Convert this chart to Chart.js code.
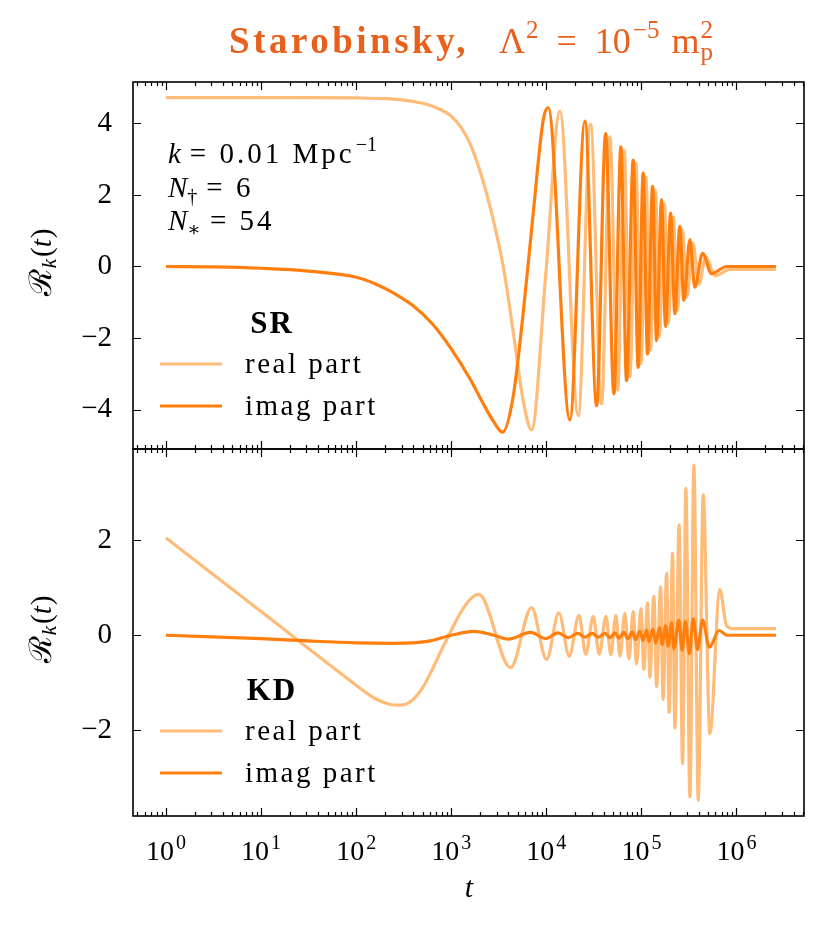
<!DOCTYPE html>
<html>
<head>
<meta charset="utf-8">
<script src="https://cdn.jsdelivr.net/npm/chart.js@4.4.1/dist/chart.umd.min.js"></script>
<style>
  html, body { margin: 0; padding: 0; background: #fff; }
  #wrap { position: relative; width: 832px; height: 933px; }
  #wrap canvas { position: absolute; left: 0; top: 0; }
</style>
</head>
<body>
<div id="wrap">
  <canvas id="srChart" width="832" height="933"></canvas>
  <canvas id="kdChart" width="832" height="933"></canvas>
</div>
<script>
// ---- data ----
// SR panel (slow roll)
const srRealT = [1, 10, 31.6, 100, 200, 316, 501, 708, 1000, 1259, 1585, 1995, 2630, 3524, 4467, 5715, 7000, 9886, 13900,
  21680, 29240, 38110, 46670, 56230, 65920, 75680, 87500, 98850, 111400, 124500, 140300, 154500, 174600,
  192300, 216800, 238800, 269800, 300600, 347500, 401800, 476400, 592900, 853100, 2.6e6];
const srRealV = [4.72, 4.72, 4.72, 4.71, 4.69, 4.65, 4.56, 4.43, 4.2, 3.9, 3.42, 2.69, 1.55, 0, -1.79, -3.75, -4.57, -0.2, 4.34,
  -4.17, 3.97, -3.84, 3.62, -3.45, 3.24, -3.08, 2.88, -2.72, 2.50, -2.34, 2.13, -1.96, 1.76,
  -1.58, 1.38, -1.22, 1.02, -0.86, 0.66, -0.50, 0.27, -0.26, -0.08, -0.08];
const srImagT = [1, 3.16, 10, 31.6, 100, 158, 251, 398, 631, 1000, 1585, 2239, 2818, 3467, 4467,
  5715, 7278, 9268, 10470, 17700, 25470, 33810, 42070, 51400, 60810, 69820, 82040, 92470, 104400, 116100,
  131200, 144500, 162900, 179500, 202800, 224900, 253500, 279900, 323600, 364800, 439500, 547000, 787000, 2.6e6];
const srImagV = [0, -0.01, -0.05, -0.13, -0.3, -0.48, -0.75, -1.1, -1.6, -2.3, -3.15, -3.9, -4.35, -4.63, -3.66,
  -1.3, 1.48, 4.08, 4.44, -4.29, 4.06, -3.89, 3.71, -3.56, 3.34, -3.19, 2.97, -2.82, 2.61, -2.44,
  2.24, -2.07, 1.87, -1.68, 1.49, -1.32, 1.12, -0.95, 0.75, -0.58, 0.37, -0.2, 0, 0];

// KD panel (kinetic dominance)
const kdRealT = [1, 3.16, 10, 20.9, 31.6, 100, 158, 224, 288, 380, 501, 631, 794, 1000, 1259, 1585, 1950,
  4217, 7000, 10070, 13550, 17420, 22030, 26060, 31120, 35970, 42360, 47750, 53950, 59430, 66990,
  73960, 82040, 88920, 98850, 106200, 116100, 122700, 135200, 144500, 159200, 169400, 184100, 195900,
  212800, 224900, 249500, 271000, 293800, 323600, 356500, 396300, 446700, 524800, 668300, 787000, 924700, 2.6e6];
const kdRealV = [2.05, 1.27, 0.50, 0, -0.28, -1.05, -1.33, -1.45, -1.47, -1.38, -1.1, -0.72, -0.3, 0.1, 0.48, 0.76, 0.86,
  -0.68, 0.58, -0.51, 0.47, -0.44, 0.42, -0.40, 0.40, -0.40, 0.40, -0.41, 0.42, -0.44, 0.46,
  -0.50, 0.50, -0.60, 0.56, -0.72, 0.68, -0.88, 0.82, -1.08, 1.02, -1.35, 1.30, -1.62,
  1.72, -1.95, 2.32, -2.70, 3.09, -3.40, 3.58, -3.47, 2.95, -2.07, 0.96, 0.2, 0.14, 0.14];
const kdImagT = [1, 10, 31.6, 100, 251, 562, 1000, 1738, 2818, 4000,
  6839, 9840, 13240, 17020, 21530, 25470, 30410, 35160, 41400, 46670, 52720, 58080, 65460, 72280,
  80170, 86900, 96600, 103700, 113500, 120000, 132100, 141300, 155600, 165600, 179900, 191400,
  208000, 219800, 247700, 267900, 289700, 319900, 350800, 389000, 439500, 518800, 657700, 794300, 2.6e6];
const kdImagV = [0, -0.07, -0.12, -0.16, -0.17, -0.13, 0, 0.08, 0, -0.08,
  0.06, -0.07, 0.05, -0.05, 0.04, -0.04, 0.04, -0.04, 0.04, -0.05, 0.05, -0.06, 0.06, -0.07,
  0.07, -0.09, 0.09, -0.11, 0.11, -0.13, 0.13, -0.16, 0.16, -0.19, 0.2, -0.23,
  0.26, -0.28, 0.32, -0.32, 0.30, -0.39, 0.35, -0.30, 0.32, -0.25, 0.10, 0, 0];

// ticks
const xTickVals = [1, 10, 100, 1e3, 1e4, 1e5, 1e6];
const xTickExps = ['0', '1', '2', '3', '4', '5', '6'];
const srYTicks = [-4, -2, 0, 2, 4];
const kdYTicks = [-2, 0, 2];

const lightOrange = '#ffbb78';
const darkOrange = '#ff7f0e';
const titleColor = '#e8601c';
const SERIF = '"Liberation Serif", "DejaVu Serif", serif';

function pts(ts, vs) {
  return ts.map((t, i) => ({x: t, y: vs[i]}));
}

// rich text: list of runs laid out left to right
function layoutRuns(ctx, runs) {
  let x = 0, prevX = 0, prevW = 0;
  const items = [];
  for (const r of runs) {
    ctx.font = r.f;
    ctx.letterSpacing = (r.ls || 0) + 'px';
    const w = ctx.measureText(r.t).width;
    if (r.over) {
      items.push({r, x: prevX});
      x = prevX + Math.max(prevW, w);
    } else {
      x += r.gap || 0;
      items.push({r, x});
      prevX = x; prevW = w;
      x += w;
    }
  }
  return {items, width: x};
}
function drawRuns(ctx, runs, x0, y0, align) {
  const {items, width} = layoutRuns(ctx, runs);
  const start = align === 'center' ? x0 - width / 2 : x0;
  ctx.textAlign = 'left';
  ctx.textBaseline = 'alphabetic';
  items.forEach(({r, x}) => {
    ctx.font = r.f;
    ctx.letterSpacing = (r.ls || 0) + 'px';
    ctx.fillText(r.t, start + x, y0 + (r.dy || 0));
  });
  ctx.letterSpacing = '0px';
}

const f = (s, style) => (style ? style + ' ' : '') + s + 'px ' + SERIF;

// frame, inward ticks and all the panel text
const panelDecor = {
  id: 'panelDecor',
  afterDatasetsDraw(chart, args, o) {
    const {ctx, chartArea: a} = chart;
    const xs = chart.scales.x, ys = chart.scales.y;
    ctx.save();
    ctx.strokeStyle = '#000';
    ctx.lineWidth = 1.2;
    ctx.beginPath();
    for (let e = -1; e <= 6; e++) {
      for (let m = 1; m <= 9; m++) {
        const v = m * Math.pow(10, e);
        if (v < xs.min || v > xs.max) continue;
        const px = Math.round(xs.getPixelForValue(v)) + 0.5;
        const len = m === 1 ? 8 : 4;
        ctx.moveTo(px, a.bottom); ctx.lineTo(px, a.bottom - len);
        ctx.moveTo(px, a.top); ctx.lineTo(px, a.top + len);
      }
    }
    o.yTicks.forEach(v => {
      const py = Math.round(ys.getPixelForValue(v)) + 0.5;
      ctx.moveTo(a.left, py); ctx.lineTo(a.left + 8, py);
      ctx.moveTo(a.right, py); ctx.lineTo(a.right - 8, py);
    });
    ctx.stroke();
    ctx.lineWidth = 1.6;
    ctx.strokeRect(a.left, a.top, a.right - a.left, a.bottom - a.top);

    ctx.fillStyle = '#000';
    // legend
    const lg = o.legend;
    drawRuns(ctx, [{t: lg.title, f: f(31, 'bold'), ls: 2}], 272, lg.y, 'center');
    const ds = chart.data.datasets;
    [ds[1], ds[0]].forEach((d, i) => {
      const ly = lg.y + 31 + i * 42;
      ctx.strokeStyle = d.borderColor;
      ctx.lineWidth = 3;
      ctx.beginPath(); ctx.moveTo(160, ly); ctx.lineTo(222, ly); ctx.stroke();
      drawRuns(ctx, [{t: d.label, f: f(29), ls: 2.5}], 245, ly + 8.5, 'left');
    });

    // y label  R_k(t)
    ctx.save();
    ctx.translate(42, (a.top + a.bottom) / 2 - 3);
    ctx.rotate(-Math.PI / 2);
    drawRuns(ctx, [
      {t: '\u211B', f: f(31)},
      {t: 'k', f: f(21, 'italic'), dy: 5, gap: 1},
      {t: '(', f: f(29), gap: 2},
      {t: 't', f: f(29, 'italic')},
      {t: ')', f: f(29), gap: 1}
    ], 0, 9, 'center');
    ctx.restore();

    // annotation block
    if (o.notes) {
      drawRuns(ctx, [
        {t: 'k', f: f(29, 'italic')},
        {t: '= 0.01 Mpc', f: f(29), ls: 3, gap: 9},
        {t: '\u22121', f: f(20), dy: -12, gap: 1}
      ], 168, 163, 'left');
      drawRuns(ctx, [
        {t: 'N', f: f(29, 'italic')},
        {t: '\u2020', f: f(20), dy: 6},
        {t: '= 6', f: f(29), ls: 3, gap: 9}
      ], 168, 197, 'left');
      drawRuns(ctx, [
        {t: 'N', f: f(29, 'italic')},
        {t: '\u2217', f: f(20), dy: 6},
        {t: '= 54', f: f(29), ls: 3, gap: 9}
      ], 168, 230, 'left');
    }

    // title
    if (o.title) {
      ctx.fillStyle = titleColor;
      drawRuns(ctx, [
        {t: 'Starobinsky,', f: f(37, 'bold'), ls: 3.5},
        {t: '\u039B', f: f(36), gap: 30},
        {t: '2', f: f(25), dy: -15, gap: 1},
        {t: '=', f: f(36), gap: 18},
        {t: '10', f: f(36), gap: 18},
        {t: '\u22125', f: f(25), dy: -15, gap: 2},
        {t: 'm', f: f(36), gap: 12},
        {t: 'p', f: f(25), dy: 7, gap: 1},
        {t: '2', f: f(25), dy: -15, over: true}
      ], 471, 53, 'center');
    }

    // x tick labels and x label
    if (o.xLabels) {
      ctx.fillStyle = '#000';
      xTickVals.forEach((v, i) => {
        const px = xs.getPixelForValue(v);
        drawRuns(ctx, [
          {t: '10', f: f(28)},
          {t: xTickExps[i], f: f(20), dy: -11, gap: 2}
        ], px, 860, 'center');
      });
      drawRuns(ctx, [{t: 't', f: f(30, 'italic')}], 469, 897, 'center');
    }
    ctx.restore();
  }
};

function makePanel(id, realT, realV, imagT, imagV, yMin, yMax, yTicks, pad, decor) {
  return new Chart(document.getElementById(id), {
    type: 'line',
    data: {
      datasets: [
        {label: 'imag part', data: pts(imagT, imagV), borderColor: darkOrange, borderWidth: 3.2,
         pointRadius: 0, cubicInterpolationMode: 'monotone', order: 0},
        {label: 'real part', data: pts(realT, realV), borderColor: lightOrange, borderWidth: 3.2,
         pointRadius: 0, cubicInterpolationMode: 'monotone', order: 1}
      ]
    },
    options: {
      responsive: false,
      animation: false,
      devicePixelRatio: 1,
      layout: {padding: pad},
      plugins: {
        legend: {display: false},
        tooltip: {enabled: false},
        panelDecor: decor
      },
      scales: {
        x: {type: 'logarithmic', min: 0.45, max: 5.13e6, display: false},
        y: {
          type: 'linear', min: yMin, max: yMax,
          afterBuildTicks: ax => { ax.ticks = yTicks.map(v => ({value: v})); },
          afterFit: ax => { ax.width = 133; },
          grid: {display: false, drawTicks: false},
          border: {display: false},
          ticks: {
            padding: 21, color: '#000', autoSkip: false,
            font: {family: SERIF, size: 29},
            callback: v => (v < 0 ? '\u2212' + (-v) : String(v))
          }
        }
      }
    },
    plugins: [panelDecor]
  });
}

makePanel('srChart', srRealT, srRealV, srImagT, srImagV, -5.1, 5.155, srYTicks,
  {top: 82, bottom: 484, left: 0, right: 28},
  {yTicks: srYTicks, legend: {title: 'SR', y: 333}, notes: true, title: true, xLabels: false});
makePanel('kdChart', kdRealT, kdRealV, kdImagT, kdImagV, -3.80, 3.916, kdYTicks,
  {top: 449, bottom: 117, left: 0, right: 28},
  {yTicks: kdYTicks, legend: {title: 'KD', y: 700}, notes: false, title: false, xLabels: true});
</script>
</body>
</html>
